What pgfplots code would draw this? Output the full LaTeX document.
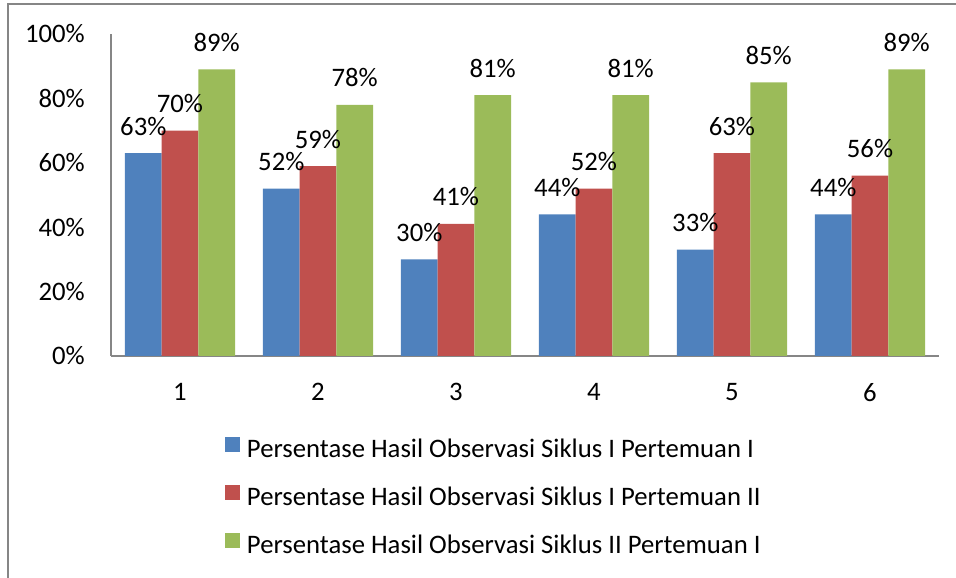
\documentclass[border=0pt]{standalone}
\usepackage{pgfplots}
\pgfplotsset{compat=1.18}
\usepackage{fontspec}
\setmainfont{Carlito}
\definecolor{xblue}{HTML}{4F81BD}
\definecolor{xred}{HTML}{C0504D}
\definecolor{xgreen}{HTML}{9BBB59}
\definecolor{axgray}{HTML}{868686}
\newcommand{\cf}{\fontsize{26.7bp}{32bp}\selectfont}
\begin{document}
\begin{tikzpicture}
\useasboundingbox (0bp,0bp) rectangle (956bp,578bp);
\draw[axgray, line width=1.5bp] (8bp,0bp) -- (8bp,574bp) -- (956bp,574bp);
\begin{axis}[
  at={(111bp,222bp)}, anchor=south west,
  scale only axis, width=828bp, height=322bp,
  xmin=0.5, xmax=6.5, ymin=0, ymax=100,
  axis lines*=left,
  axis line style={draw=axgray, line width=1.3bp},
  major tick length=0pt,
  xtick={1,2,3,4,5,6}, xticklabels={1,2,3,4,5,6},
  ytick={0,20,40,60,80,100}, yticklabels={0\%,20\%,40\%,60\%,80\%,100\%},
  yticklabel style={font=\cf, inner sep=0pt, anchor=east, xshift=-26bp},
  xticklabel style={font=\cf, inner sep=0pt, anchor=north, yshift=-27bp},
  ybar=0pt, bar width=36.7bp,
  clip=false,
  nodes near coords={\pgfmathprintnumber[assume math mode=true]{\pgfplotspointmeta}\%},
  every node near coord/.append style={font=\cf, text=black, anchor=base, inner sep=0pt, yshift=18bp},
  legend cell align=left,
  legend image code/.code={\fill[#1] (0bp,0bp) rectangle (15bp,15bp);},
  legend style={draw=none, fill=none, inner sep=0pt, outer sep=0pt,
    anchor=north west, at={(axis description cs:0.13768,-0.2516)},
    font=\cf, row sep=23bp,
    nodes={inner sep=0pt, text height=15bp, text depth=5bp},
    /tikz/every odd column/.append style={column sep=7bp}},
]
\addplot[draw=none, fill=xblue] coordinates {(1,63) (2,52) (3,30) (4,44) (5,33) (6,44)};
\addplot[draw=none, fill=xred] coordinates {(1,70) (2,59) (3,41) (4,52) (5,63) (6,56)};
\addplot[draw=none, fill=xgreen] coordinates {(1,89) (2,78) (3,81) (4,81) (5,85) (6,89)};
\legend{Persentase Hasil Observasi Siklus I Pertemuan I,Persentase Hasil Observasi Siklus I Pertemuan II,Persentase Hasil Observasi Siklus II Pertemuan I}
\end{axis}
\end{tikzpicture}
\end{document}
